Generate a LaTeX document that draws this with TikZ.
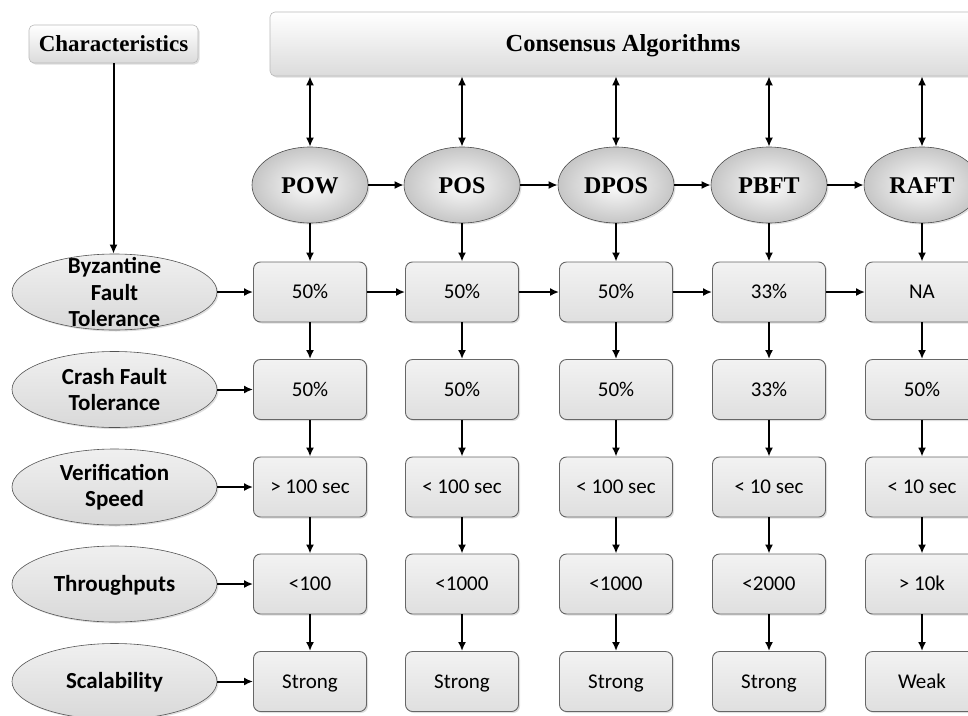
\documentclass[tikz,border=0pt]{standalone}
\usepackage{fontspec}
\setmainfont{Liberation Serif}
\newfontfamily\calfont{Carlito}
\usetikzlibrary{arrows.meta,shapes.geometric,shadows}
\begin{document}
\begin{tikzpicture}[x=1pt,y=-1pt,
  arr/.style={line width=2pt,-{Latex[length=9pt,width=8pt]}},
  darr/.style={line width=2pt,{Latex[length=9pt,width=8pt]}-{Latex[length=9pt,width=8pt]}},
  soft/.style={drop shadow={shadow xshift=1.5pt,shadow yshift=-1.5pt,opacity=0.25}},
  cell/.style={soft,draw=gray!80!black,line width=0.9pt,rounded corners=7pt,
    top color=gray!10,bottom color=gray!25,minimum width=113pt,minimum height=60pt,
    inner sep=0pt,text height=13.5pt,text depth=0pt,font=\calfont\fontsize{21}{25}\selectfont},
  algo/.style={soft,ellipse,draw=gray!60!black,line width=0.6pt,
    inner color=gray!2,outer color=gray!45,minimum width=116pt,minimum height=76pt,
    inner sep=0pt,text height=16pt,text depth=0pt,font=\bfseries\fontsize{24}{27}\selectfont},
  attr/.style={soft,ellipse,draw=gray!65!black,line width=0.6pt,
    top color=gray!12,bottom color=gray!30,minimum width=205pt,minimum height=76pt,inner sep=0pt},
  attrtext/.style={align=center,inner sep=0pt,font=\calfont\bfseries\fontsize{23}{26.5}\selectfont},
  oneline/.style={text height=14.5pt,text depth=0pt},
  titlebox/.style={soft,draw=gray!55,line width=0.6pt,rounded corners=5pt,
    top color=white,bottom color=gray!28,inner sep=0pt,text height=15pt,text depth=0pt}
]
\useasboundingbox (0,0) rectangle (968,715);
\clip (0,0) rectangle (968,715);

% header boxes
\node[titlebox,minimum width=169pt,minimum height=38pt,font=\bfseries\fontsize{23}{26}\selectfont] (char) at (113.5,44) {Characteristics};
\node[titlebox,minimum width=706pt,minimum height=64pt,font=\bfseries\fontsize{24.5}{27}\selectfont] (cons) at (623,44) {Consensus Algorithms};

% algorithms
\node[algo] (pow)  at (310,185) {POW};
\node[algo] (pos)  at (462,185) {POS};
\node[algo] (dpos) at (616,185) {DPOS};
\node[algo] (pbft) at (769,185) {PBFT};
\node[algo] (raft) at (922,185) {RAFT};

% characteristics
\node[attr] (byz) at (114.5,292) {};
\node[attrtext] (byzt) at (byz) {Byzantine\\Fault\\Tolerance};
\node[attr] (crash) at (114.5,389.5) {};
\node[attrtext] (crasht) at (crash) {Crash Fault\\Tolerance};
\node[attr] (ver) at (114.5,487) {};
\node[attrtext] (vert) at (ver) {Verification\\Speed};
\node[attr] (thr) at (114.5,584) {};
\node[attrtext,oneline] (thrt) at (thr) {Throughputs};
\node[attr] (sca) at (114.5,681.5) {};
\node[attrtext,oneline] (scat) at (sca) {Scalability};

% value cells: row 1 (Byzantine fault tolerance)
\node[cell] (a1) at (310,292) {50\%};
\node[cell] (a2) at (462,292) {50\%};
\node[cell] (a3) at (616,292) {50\%};
\node[cell] (a4) at (769,292) {33\%};
\node[cell] (a5) at (922,292) {NA};
% row 2 (crash fault tolerance)
\node[cell] (b1) at (310,389.5) {50\%};
\node[cell] (b2) at (462,389.5) {50\%};
\node[cell] (b3) at (616,389.5) {50\%};
\node[cell] (b4) at (769,389.5) {33\%};
\node[cell] (b5) at (922,389.5) {50\%};
% row 3 (verification speed)
\node[cell] (c1) at (310,487) {> 100 sec};
\node[cell] (c2) at (462,487) {< 100 sec};
\node[cell] (c3) at (616,487) {< 100 sec};
\node[cell] (c4) at (769,487) {< 10 sec};
\node[cell] (c5) at (922,487) {< 10 sec};
% row 4 (throughputs)
\node[cell] (d1) at (310,584) {<100};
\node[cell] (d2) at (462,584) {<1000};
\node[cell] (d3) at (616,584) {<1000};
\node[cell] (d4) at (769,584) {<2000};
\node[cell] (d5) at (922,584) {> 10k};
% row 5 (scalability)
\node[cell] (e1) at (310,681.5) {Strong};
\node[cell] (e2) at (462,681.5) {Strong};
\node[cell] (e3) at (616,681.5) {Strong};
\node[cell] (e4) at (769,681.5) {Strong};
\node[cell] (e5) at (922,681.5) {Weak};

% connectors
\draw[arr] (char.south) -- (char.south |- byz.north);
\foreach \n in {pow,pos,dpos,pbft,raft}
  \draw[darr] (\n |- cons.south) -- (\n.north);
\draw[arr] (pow.east) -- (pos.west);
\draw[arr] (pos.east) -- (dpos.west);
\draw[arr] (dpos.east) -- (pbft.west);
\draw[arr] (pbft.east) -- (raft.west);

\draw[arr] (a1.east) -- (a2.west);
\draw[arr] (a2.east) -- (a3.west);
\draw[arr] (a3.east) -- (a4.west);
\draw[arr] (a4.east) -- (a5.west);

\draw[arr] (byz.east) -- (a1.west);
\draw[arr] (crash.east) -- (b1.west);
\draw[arr] (ver.east) -- (c1.west);
\draw[arr] (thr.east) -- (d1.west);
\draw[arr] (sca.east) -- (e1.west);

\foreach \n/\i in {pow/1,pos/2,dpos/3,pbft/4,raft/5}{
  \draw[arr] (\n.south) -- (a\i.north);
  \draw[arr] (a\i.south) -- (b\i.north);
  \draw[arr] (b\i.south) -- (c\i.north);
  \draw[arr] (c\i.south) -- (d\i.north);
  \draw[arr] (d\i.south) -- (e\i.north);
}
\end{tikzpicture}
\end{document}
